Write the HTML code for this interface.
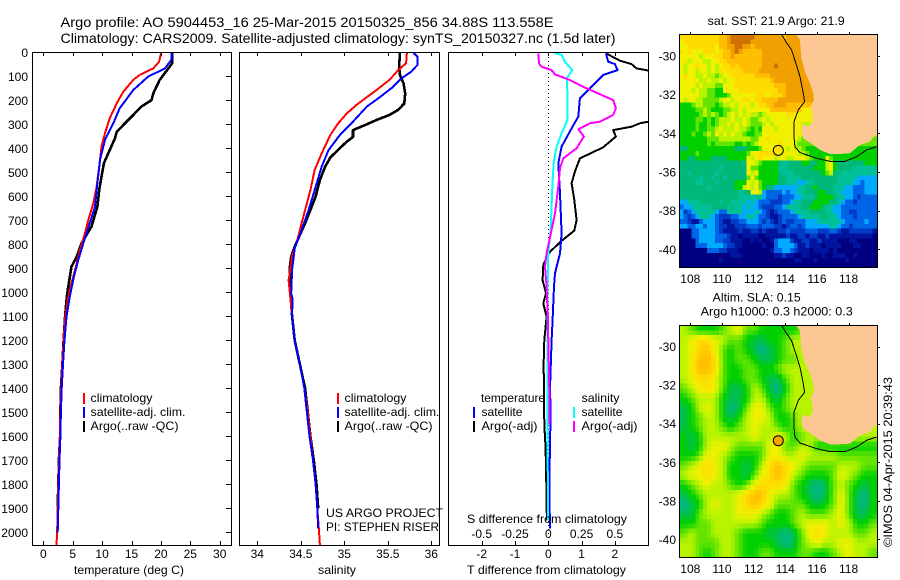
<!DOCTYPE html>
<html>
<head>
<meta charset="utf-8">
<title>Argo profile</title>
<style>
html,body{margin:0;padding:0;background:#fff;}
svg{display:block;}
text{font-family:"Liberation Sans",sans-serif;font-size:12px;fill:#000;}
.t14{font-size:14px;}
.t13{font-size:12.5px;}
</style>
</head>
<body>
<svg id="chart" xmlns="http://www.w3.org/2000/svg" width="900" height="580" viewBox="0 0 900 580">
<defs>
<clipPath id="clip1"><rect x="32" y="52" width="200" height="494"/></clipPath>
<clipPath id="clip2"><rect x="239" y="52" width="201" height="494"/></clipPath>
<clipPath id="clip3"><rect x="448" y="52" width="201" height="494"/></clipPath>
<clipPath id="clipM1"><rect x="679" y="34" width="199" height="234"/></clipPath>
<clipPath id="clipM2"><rect x="679" y="325" width="199" height="233"/></clipPath>
</defs>
<rect width="900" height="580" fill="#fff"/>

<text class="t14" x="60.5" y="27" textLength="493" lengthAdjust="spacingAndGlyphs">Argo profile: AO 5904453_16 25-Mar-2015 20150325_856 34.88S 113.558E</text>
<text class="t14" x="60.5" y="43" textLength="555" lengthAdjust="spacingAndGlyphs">Climatology: CARS2009. Satellite-adjusted climatology: synTS_20150327.nc (1.5d later)</text>

<g id="mapSst" clip-path="url(#clipM1)"></g>
<g id="mapSla" clip-path="url(#clipM2)"></g>
<g id="series1" clip-path="url(#clip1)"></g>
<g id="series2" clip-path="url(#clip2)"></g>
<g id="series3" clip-path="url(#clip3)"></g>
<g id="axes"></g>

<rect x="32.5" y="52.5" width="199" height="493" fill="none" stroke="#000" shape-rendering="crispEdges"/>
<rect x="239.5" y="52.5" width="200" height="493" fill="none" stroke="#000" shape-rendering="crispEdges"/>
<rect x="448.5" y="52.5" width="200" height="493" fill="none" stroke="#000" shape-rendering="crispEdges"/>
<rect x="679.5" y="34.5" width="198" height="233" fill="none" stroke="#000" shape-rendering="crispEdges"/>
<rect x="679.5" y="325.5" width="198" height="232" fill="none" stroke="#000" shape-rendering="crispEdges"/>

<text x="74" y="574" textLength="110" lengthAdjust="spacingAndGlyphs">temperature (deg C)</text>
<text x="318" y="574" textLength="38" lengthAdjust="spacingAndGlyphs">salinity</text>
<text x="467" y="574" textLength="159" lengthAdjust="spacingAndGlyphs">T difference from climatology</text>
<text x="467" y="523" textLength="160" lengthAdjust="spacingAndGlyphs">S difference from climatology</text>

<g shape-rendering="crispEdges">
<rect x="83" y="393" width="2" height="11" fill="#f00"/>
<rect x="83" y="407" width="2" height="11" fill="#00f"/>
<rect x="83" y="421" width="2" height="11" fill="#000"/>
<text x="90.5" y="402" textLength="62" lengthAdjust="spacingAndGlyphs">climatology</text>
<text x="90.5" y="416" textLength="95" lengthAdjust="spacingAndGlyphs">satellite-adj. clim.</text>
<text x="90.5" y="430" textLength="88" lengthAdjust="spacingAndGlyphs">Argo(..raw -QC)</text>
</g>
<g shape-rendering="crispEdges">
<rect x="337" y="393" width="2" height="11" fill="#f00"/>
<rect x="337" y="407" width="2" height="11" fill="#00f"/>
<rect x="337" y="421" width="2" height="11" fill="#000"/>
<text x="344.5" y="402" textLength="62" lengthAdjust="spacingAndGlyphs">climatology</text>
<text x="344.5" y="416" textLength="95" lengthAdjust="spacingAndGlyphs">satellite-adj. clim.</text>
<text x="344.5" y="430" textLength="88" lengthAdjust="spacingAndGlyphs">Argo(..raw -QC)</text>
</g>
<text x="326" y="517" textLength="117" lengthAdjust="spacingAndGlyphs">US ARGO PROJECT</text>
<text x="326" y="531" textLength="113" lengthAdjust="spacingAndGlyphs">PI: STEPHEN RISER</text>

<g shape-rendering="crispEdges">
<text x="481" y="402" textLength="64" lengthAdjust="spacingAndGlyphs">temperature</text>
<rect x="473" y="407" width="2" height="11" fill="#00f"/>
<rect x="473" y="421" width="2" height="11" fill="#000"/>
<text x="481.5" y="416" textLength="41" lengthAdjust="spacingAndGlyphs">satellite</text>
<text x="481.5" y="430" textLength="56" lengthAdjust="spacingAndGlyphs">Argo(-adj)</text>
<text x="581.5" y="402" textLength="38" lengthAdjust="spacingAndGlyphs">salinity</text>
<rect x="573" y="407" width="2" height="11" fill="#0ff"/>
<rect x="573" y="421" width="2" height="11" fill="#f0f"/>
<text x="581.5" y="416" textLength="41" lengthAdjust="spacingAndGlyphs">satellite</text>
<text x="581.5" y="430" textLength="56" lengthAdjust="spacingAndGlyphs">Argo(-adj)</text>
</g>

<text x="707.7" y="25" textLength="137" lengthAdjust="spacingAndGlyphs">sat. SST: 21.9 Argo: 21.9</text>
<text x="712.7" y="301.5" textLength="88" lengthAdjust="spacingAndGlyphs">Altim. SLA: 0.15</text>
<text x="700.7" y="315.5" textLength="152" lengthAdjust="spacingAndGlyphs">Argo h1000: 0.3 h2000: 0.3</text>
<text transform="translate(892,547) rotate(-90)" x="0" y="0" textLength="170" lengthAdjust="spacingAndGlyphs">©IMOS 04-Apr-2015 20:39:43</text>
</svg>

<script>
// ---- profile data (depth in m, value in deg C or PSU) ----
const tempClimDepth = [0,39,67,94,115,164,212,275,337,393,476,560,629,699,754,824,893,962,1018,1100,1200,1300,1400,1500,1600,1700,1800,1900,2000,2054];
const tempClimValue = [20.07,19.7,18.7,16.4,15.3,13.6,12.5,11.3,10.5,9.9,9.5,9.07,8.5,7.65,7.1,6.2,5.55,4.8,4.25,3.75,3.45,3.25,3.05,2.9,2.8,2.65,2.55,2.45,2.35,2.25];
const tempSatDepth = [0,32,67,101,157,233,296,365,449,546,643,712,796,865,935,1018,1100,1200,1300,1400,1500,1600,1700,1800,1900,2000];
const tempSatValue = [21.77,21.77,20.7,17.86,15.3,13,11.9,10.5,9.64,9.2,8.8,7.9,6.8,5.95,5.2,4.5,3.95,3.6,3.35,3.13,3,2.9,2.75,2.65,2.55,2.45];
const tempArgoDepth = [0,46,115,171,199,226,261,296,331,358,435,462,518,574,643,726,796,851,893,976,1018,1100,1200,1300,1400,1500,1600,1700,1800,1900];
const tempArgoValue = [21.9,21.9,19.8,18.7,18.4,16.7,15.3,13.9,12.5,12.2,10.8,10.3,9.9,9.5,9.2,8.2,6.5,5.7,4.8,4.25,4,3.7,3.45,3.25,3,2.9,2.85,2.65,2.55,2.45];

const salClimDepth = [0,46,74,115,157,192,219,254,296,344,421,490,574,657,740,796,850,950,1100,1200,1300,1400,1500,1600,1700,1800,1900,2000,2054];
const salClimValue = [35.72,35.71,35.62,35.52,35.37,35.24,35.14,35.03,34.93,34.84,34.74,34.66,34.61,34.55,34.49,34.45,34.4,34.36,34.4,34.43,34.49,34.54,34.58,34.61,34.64,34.67,34.69,34.71,34.72];
const salSatDepth = [0,18,53,81,108,150,192,226,289,344,407,476,574,657,740,817,907,1004,1025,1100,1200,1300,1400,1500,1600,1700,1800,1900,1985];
const salSatValue = [35.79,35.84,35.84,35.77,35.66,35.54,35.39,35.26,35.1,34.95,34.82,34.74,34.66,34.59,34.51,34.43,34.4,34.39,34.405,34.4,34.43,34.49,34.54,34.57,34.6,34.64,34.67,34.69,34.7];
const salArgoDepth = [0,60,95,129,171,213,240,261,282,303,324,353,372,406,438,476,532,601,657,712,761,810,851,893,955,1000,1100,1200,1300,1400,1500,1600,1700,1800,1900];
const salArgoValue = [35.64,35.63,35.64,35.68,35.7,35.69,35.62,35.52,35.37,35.24,35.1,35.1,35.03,34.93,34.84,34.78,34.72,34.67,34.61,34.55,34.49,34.43,34.39,34.375,34.37,34.38,34.4,34.43,34.49,34.55,34.58,34.61,34.65,34.68,34.7];

const diffTDepth = [4,35,49,67,76,150,200,289,296,310,324,351,396,442,497,546,615,699,743,786,831,851,886,949,1004,1046,1101,1200,1300,1400,1550,1650,1800,1900,1950];
const diffTValue = [1.73,2.15,2.5,2.65,3,5,5.9,3,2.75,2.5,1.95,2.03,1.65,0.95,0.8,0.7,0.78,0.85,0.78,0.4,0.05,-0.03,-0.15,-0.17,-0.07,-0.15,-0.05,-0.12,-0.14,-0.13,-0.12,-0.08,-0.06,-0.05,-0.04];
const diffTSatDepth = [4,39,49,74,94,129,192,268,317,393,463,588,755,838,921,976,1115,1200,1400,1500,1800,1985];
const diffTSatValue = [1.73,1.8,2,2.08,1.65,1.4,0.95,0.9,0.7,0.4,0.3,0.35,0.4,0.35,0.2,0.17,0.13,0.1,0.05,0.07,0.03,0.05];
const diffSSatDepth = [4,11,39,74,108,199,282,338,393,449,532,643,740,838,976,1115,1300,1550,1800,1950];
const diffSSatValue = [0.05,0.1,0.125,0.18,0.14,0.145,0.143,0.1,0.0625,0.0425,0.0325,0.025,0.0175,0,-0.005,-0.0075,-0.005,-0.005,-0.004,-0.002];
const diffSDepth = [4,46,60,74,92,113,150,199,233,261,289,296,321,351,400,442,483,560,671,740,838,893,976,1100,1400,1550];
const diffSValue = [-0.075,-0.07,-0.05,0.025,0.05,0.15,0.2875,0.4875,0.5075,0.4875,0.3875,0.3125,0.225,0.2675,0.2125,0.1125,0.0875,0.075,0.05,0.025,-0.0125,-0.025,-0.0125,-0.004,0.0075,0.0075];

// ---- tick labels ----
const depthTicks = [0,100,200,300,400,500,600,700,800,900,1000,1100,1200,1300,1400,1500,1600,1700,1800,1900,2000];
const tempTicks = [0,5,10,15,20,25,30];
const salTicks = [34,34.5,35,35.5,36];
const diffTTicks = [-2,-1,0,1,2];
const diffSTickValues = [-0.5,-0.25,0,0.25,0.5];
const diffSTickLabels = ['-0.5','-0.25','0','0.25','0.5'];
const lonTicks = [108,110,112,114,116,118];
const latTicks = [30,32,34,36,38,40];

// ---- map data: one character per 0.25 degree cell, index into mapPalette ----
const mapPalette = ['#000080','#0014a0','#003cc8','#0064e6','#00aaff','#00c098','#00b878','#00d000','#60e400','#b8f400','#f0f000','#ffdc00','#ffbe00','#f0a000','#d07000'];
const sstRows = [
"bbbbbbbbbbccdeeeeeedddddddcddddd",
"abbbbbbbbbccdeeeeedddddddddddddd",
"aabbbbbbbaccddeeddcddddddddddddd",
"babaaabbbabccdedcccccddddddddddd",
"aaaaa9aaabbccdcccccccddddddddddd",
"aa9aaa99aabbcccccccccddddddddddd",
"a9aabaa9a9abbcbccccccdddeddddddd",
"a9aa9aa9a9babbbbccccdddddddddddd",
"abaa99a9989aabbbbbbccccddddddddd",
"aaaaa99a99a9aabbbbbbbbbcdddddddd",
"aaaa9a99988aaabbbbbbbbbbcccddddd",
"aaa9a998877aaaabbbbbbbbbbccddddd",
"aaaaa99887778aaaaaabbbabbbcddddd",
"a9aa9988889aa9aabbabbccccddddddd",
"7778998887899a9aaa9abbccdddccccc",
"777788987778899a9aaaaaacccccccca",
"7777789898789a9a9a9989aaaaabbaaa",
"7777887878999a99a9889a9aaaaaaaaa",
"777787787899a9a9a98889a9aaaaaaa9",
"7777877889a999a998787aaa9aaaaaa9",
"777877898a9a9a9987788aaaaaaaaaa9",
"77777778889999999988aabaaaaaaa98",
"77777778788888778789aaaaabaaa988",
"667777777777776667778aaabba9a998777777777777777777",
"7777877777777777 78aabbbbbaaaaa99877777777777777777".replace(' ',''),
"77667777666677777a9abaaa9aa99aaa98777a877777777777",
"66666666666666666aa987777655666776677 9a766666667".replace(' ',''),
"66666666665666666a8877777556666666777 9a7666655555".replace(' ',''),
"66566666656666666a9a77777655566666667896655555555",
"666665665665666668a877777665555666666666555554444",
"66665566656666777a9a87777665554455666666555544344",
"66666665666666779a9a876644444455667666655544333 44".replace(' ',''),
"666666666666666566aa94333343445566677665544 4333444".replace(' ',''),
"6666666666666665555554333233344555677776554 4323333".replace(' ',''),
"4455566666566555545433322233 4556667777665433 2333333".replace(/ /g,''),
"34455555666656554544322233455556677765544333333333",
"42345555543355554445432123334555566665544332233333",
"43234555432223344554332112333345555566554333233333",
"33211344432112233444323212322333444555555433333433",
"44334434432211222333233322123323444444554332333333",
"00033444432111121122121112232222333222332112222221",
"00033444433321101111001111121122122112111111111110",
"00003444433221110010100134442112211211110001100000",
"00003334444322110000010034444311211101111000110000",
"00000003332211100000000133443211101111010000000000",
"00000000000001110000000011211001100010011100100000",
"00000000001000000000000000000110001000000010000000",
"00000000000000000000000000000000000000000000000000"
];
const slaRows = [
"9877789a88777778999999999",
"9abba98876677899999999999",
"9abca87876567899999999999",
"9accb87887667889999999999",
"9accb87788778999999999999",
"9abba87788766899999999999",
"89aba86679865799999999999",
"7899976679976899999999999",
"679a97568aa87899999999999",
"678997679aa97789999999999",
"678998789a998789999999999",
"767999999a99a978999999999",
"7679aa98888aa889977777777",
"778aa987778aa99a999988888",
"89aba977679bcba9888899988",
"9aaba97768abcb987778a9877",
"789a99878abbba87656898767",
"6789999abcca99876568a8657",
"5679a99abcba88887678a8657",
"6689999aaa9877898889a8667",
"7788999999877789aaa9a9778",
"8988999877766568aba999889",
"99888998777765689a99aa999",
"998789987788777887789a998"
];

// ---- coastline and 200 m isobath in lon / lat ----
const landLon = [114.67,114.93,115.01,115.24,115.56,115.77,115.81,115.6,115.73,115.73,115.45,115.09,115.01,115.14,115.77,116.19,116.82,117.45,118.08,118.72,119.35,119.66,119.8,119.8];
const landLat = [-28.88,-29.17,-30.12,-30.81,-31.41,-31.93,-32.28,-32.62,-33.05,-33.4,-33.66,-33.52,-33.91,-34.26,-34.6,-34.86,-35.07,-35.07,-35.03,-34.6,-34.43,-34.09,-34.09,-28.88];
const isoLon = [113.77,114.04,114.4,114.67,114.93,115.14,115.22,114.82,114.55,114.55,114.61,114.93,115.98,116.82,117.77,118.51,119.14,119.77];
const isoLat = [-28.88,-29.26,-29.69,-30.38,-31.07,-31.93,-32.36,-32.79,-33.4,-34.17,-34.69,-35,-35.29,-35.45,-35.45,-35.21,-34.86,-34.69];
const floatLon = 113.558;
const floatLat = -34.88;

// ---- axis functions ----
const NS = 'http://www.w3.org/2000/svg';
function yDepth(d){ return 52.3 + 0.24 * d; }
function xTemp(t){ return 43.3 + 5.88 * t; }
function xSal(s){ return 257.3 + 87 * (s - 34); }
function xDiffT(t){ return 548.3 + 33.3 * t; }
function xDiffS(s){ return 548.3 + 133.2 * s; }
function xLon(lon){ return 690.3 + 15.83 * (lon - 108); }
function yLat1(lat){ return 56 + 19.33 * (-30 - lat); }
function yLat2(lat){ return 346.7 + 19.26 * (-30 - lat); }

function make(tag, attrs, parent){
  const el = document.createElementNS(NS, tag);
  for (const k in attrs) el.setAttribute(k, attrs[k]);
  parent.appendChild(el);
  return el;
}
function drawSeries(parentId, name, depths, values, xf, color, width){
  const pts = depths.map((d, i) => xf(values[i]).toFixed(1) + ',' + yDepth(d).toFixed(1)).join(' ');
  const el = make('polyline', {points: pts, fill: 'none', stroke: color, 'stroke-width': width, 'stroke-linejoin': 'round', 'shape-rendering': 'crispEdges'}, document.getElementById(parentId));
  
  
}

const axes = document.getElementById('axes');
function tickLine(x1, y1, x2, y2){
  const el = make('line', {x1: x1, y1: y1, x2: x2, y2: y2, stroke: '#000', 'stroke-width': 1, 'shape-rendering': 'crispEdges'}, axes);
  
  
}
function tickText(x, y, anchor, label){
  const el = make('text', {x: x, y: y, 'text-anchor': anchor}, axes);
  el.textContent = label;
  
  
}

// ---- profile panels ----
drawSeries('series1', 'temperature-argo', tempArgoDepth, tempArgoValue, xTemp, '#000', 2.6);
drawSeries('series1', 'temperature-climatology', tempClimDepth, tempClimValue, xTemp, '#f00', 2);
drawSeries('series1', 'temperature-satellite', tempSatDepth, tempSatValue, xTemp, '#00f', 2);

drawSeries('series2', 'salinity-argo', salArgoDepth, salArgoValue, xSal, '#000', 2.6);
drawSeries('series2', 'salinity-climatology', salClimDepth, salClimValue, xSal, '#f00', 2);
drawSeries('series2', 'salinity-satellite', salSatDepth, salSatValue, xSal, '#00f', 2);

const zeroLine = make('line', {x1: xDiffT(0) + 0.2, y1: 53, x2: xDiffT(0) + 0.2, y2: 545, stroke: '#000', 'stroke-width': 1, 'stroke-dasharray': '1 3', 'shape-rendering': 'crispEdges'}, document.getElementById('series3'));


drawSeries('series3', 'diff-temperature-argo', diffTDepth, diffTValue, xDiffT, '#000', 2);
drawSeries('series3', 'diff-temperature-satellite', diffTSatDepth, diffTSatValue, xDiffT, '#00f', 2);
drawSeries('series3', 'diff-salinity-satellite', diffSSatDepth, diffSSatValue, xDiffS, '#0ff', 2);
drawSeries('series3', 'diff-salinity-argo', diffSDepth, diffSValue, xDiffS, '#f0f', 2);

// ---- profile axes ----
depthTicks.forEach(function(d){
  tickLine(226, Math.round(yDepth(d)) + 0.5, 231, Math.round(yDepth(d)) + 0.5);
  tickText(28, yDepth(d) + 4.5, 'end', String(d));
});
tempTicks.forEach(function(t){
  const x = Math.round(xTemp(t)) + 0.5;
  tickLine(x, 52, x, 56);
  tickLine(x, 541, x, 545);
  tickText(xTemp(t), 558, 'middle', String(t));
});
salTicks.forEach(function(s){
  const x = Math.round(xSal(s)) + 0.5;
  tickLine(x, 52, x, 56);
  tickLine(x, 541, x, 545);
  tickText(xSal(s), 558, 'middle', String(s));
});
diffTTicks.forEach(function(t){
  const x = Math.round(xDiffT(t)) + 0.5;
  tickLine(x, 52, x, 56);
  tickLine(x, 541, x, 545);
  tickText(xDiffT(t), 558, 'middle', String(t));
});
diffSTickValues.forEach(function(s, i){
  tickText(xDiffS(s), 538, 'middle', diffSTickLabels[i]);
});

// ---- maps ----
function hexRgb(h){ return [parseInt(h.substr(1,2),16), parseInt(h.substr(3,2),16), parseInt(h.substr(5,2),16)]; }
function levelColor(v){
  const i = Math.max(0, Math.min(mapPalette.length - 1, Math.floor(v)));
  const j = Math.min(mapPalette.length - 1, i + 1);
  const f = v - i, a = hexRgb(mapPalette[i]), b = hexRgb(mapPalette[j]);
  return 'rgb(' + [0,1,2].map(k => Math.round(a[k] + (b[k] - a[k]) * f)).join(',') + ')';
}
function level(rows, r, c){
  const row = rows[Math.min(rows.length - 1, r)];
  const ch = row.charAt(Math.min(row.length - 1, c));
  const v = parseInt(ch, 16);
  return isNaN(v) ? 7 : v;
}
const COLS = 50, ROWS = 48;
const cellW = 197 / COLS;
function drawCell(g, c, r, top, cellH, color, name){
  const el = make('rect', {x: (679.5 + c * cellW).toFixed(2), y: (top + r * cellH).toFixed(2), width: (cellW + 0.3).toFixed(2), height: (cellH + 0.3).toFixed(2), fill: color, 'shape-rendering': 'crispEdges'}, g);
  
  
}
const gSst = document.getElementById('mapSst');
for (let r = 0; r < ROWS; r++) for (let c = 0; c < COLS; c++) {
  drawCell(gSst, c, r, 34.5, 233 / ROWS, levelColor(level(sstRows, r, c)), 'sst-cell');
}
const gSla = document.getElementById('mapSla');
for (let r = 0; r < ROWS; r++) for (let c = 0; c < COLS; c++) {
  const u = (c - 0.5) / 2, v = (r - 0.5) / 2;
  const c0 = Math.max(0, Math.floor(u)), r0 = Math.max(0, Math.floor(v));
  const fu = Math.max(0, u - c0), fv = Math.max(0, v - r0);
  let val = (level(slaRows, r0, c0) * (1 - fu) + level(slaRows, r0, c0 + 1) * fu) * (1 - fv)
          + (level(slaRows, r0 + 1, c0) * (1 - fu) + level(slaRows, r0 + 1, c0 + 1) * fu) * fv;
  if (val < 7) val = 7 - (7 - val) * 0.65;
  drawCell(gSla, c, r, 325.5, 232 / ROWS, levelColor(val), 'sla-cell');
}

function drawMapOverlay(g, yLat, floatFill, tag){
  const land = make('polygon', {points: landLon.map((x, i) => xLon(x).toFixed(1) + ',' + yLat(landLat[i]).toFixed(1)).join(' '), fill: '#fdc794', 'shape-rendering': 'crispEdges'}, g);
  
  
  const iso = make('polyline', {points: isoLon.map((x, i) => xLon(x).toFixed(1) + ',' + yLat(isoLat[i]).toFixed(1)).join(' '), fill: 'none', stroke: '#000', 'stroke-width': 1, 'shape-rendering': 'crispEdges'}, g);
  
  
  const dot = make('circle', {cx: xLon(floatLon), cy: yLat(floatLat), r: 5, fill: floatFill, stroke: '#000', 'stroke-width': 1}, g);
  
  
}
drawMapOverlay(gSst, yLat1, 'none', 'sst');
drawMapOverlay(gSla, yLat2, '#f9a600', 'sla');

function mapAxes(yLat, top, bottom, labelY){
  lonTicks.forEach(function(lon){
    const x = Math.round(xLon(lon)) + 0.5;
    tickLine(x, top - 2, x, top);
    tickText(xLon(lon), labelY, 'middle', String(lon));
  });
  latTicks.forEach(function(lat){
    const y = Math.round(yLat(-lat)) + 0.5;
    tickLine(877, y, 880, y);
    tickText(676, yLat(-lat) + 4.5, 'end', '-' + lat);
  });
}
mapAxes(yLat1, 34, 267, 283);
mapAxes(yLat2, 325, 557, 573);
</script>
</body>
</html>
